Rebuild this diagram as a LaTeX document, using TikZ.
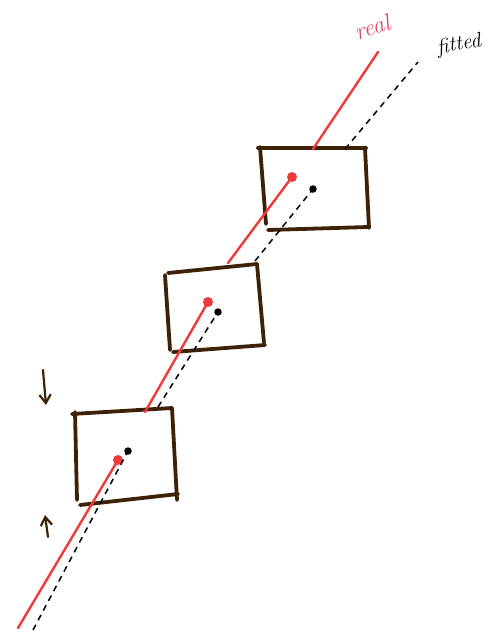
\documentclass[tikz,border=0pt]{standalone}
\usepackage{tikz}
\usetikzlibrary{arrows.meta}
\definecolor{sketchred}{HTML}{EE3A3A}
\definecolor{labelred}{HTML}{DE4A66}
\definecolor{boxbrown}{HTML}{3E2208}
\tikzset{
  frame/.style={draw=boxbrown, line width=3.8pt, line cap=round},
  realline/.style={draw=sketchred, line width=2.4pt, line cap=round},
  fitline/.style={draw=black, line width=1.5pt, dash pattern=on 6pt off 5pt},
  realdot/.style={circle, fill=sketchred, minimum size=10pt, inner sep=0pt},
  fitdot/.style={circle, fill=black, minimum size=7.5pt, inner sep=0pt},
  squeeze/.style={-{Straight Barb[length=3mm,width=4mm]}, draw=boxbrown, line width=2.2pt, line cap=round},
  lbl/.style={font=\itshape, inner sep=1pt}
}
\begin{document}
\begin{tikzpicture}[x=1pt,y=-1pt]
\useasboundingbox (0,0) rectangle (487,633);
% bottom box
\draw[frame] (75,412) -- (77,500);
\draw[frame] (72,414) -- (172,408);
\draw[frame] (172,408) -- (177,500);
\draw[frame] (80,505) -- (178,494);
% middle box
\draw[frame] (165,275) -- (170,350);
\draw[frame] (168,273) -- (257,264);
\draw[frame] (257,264) -- (264,343);
\draw[frame] (173,352) -- (265,345);
% top box
\draw[frame] (260,147) -- (266,224);
\draw[frame] (258,148) -- (366,148);
\draw[frame] (365,148) -- (369,228);
\draw[frame] (268,230) -- (368,227);
% dots
\node[realdot] (r1) at (118,460) {};
\node[realdot] (r2) at (208,302) {};
\node[realdot] (r3) at (292,177) {};
\node[fitdot] (f1) at (128,451) {};
\node[fitdot] (f2) at (218,312) {};
\node[fitdot] (f3) at (313,189) {};
% segment ends
\coordinate (ra) at (18,628);
\coordinate (rb) at (145,412);
\coordinate (rc) at (228,263);
\coordinate (rd) at (313,149);
\coordinate (re) at (378,52);
\coordinate (fa) at (33,630);
\coordinate (fb) at (158,407);
\coordinate (fc) at (255,261);
\coordinate (fd) at (345,149);
\coordinate (fe) at (418,62);
% real path
\draw[realline] (ra) -- (r1.center);
\draw[realline] (rb) -- (r2.center);
\draw[realline] (rc) -- (r3.center);
\draw[realline] (rd) -- (re);
% fitted path
\draw[fitline] (fa) -- (f1.center);
\draw[fitline] (fb) -- (f2.center);
\draw[fitline] (fc) -- (f3.center);
\draw[fitline] (fd) -- (fe);
% arrows
\coordinate (d0) at (43,370);
\coordinate (d1) at (46,405);
\coordinate (u0) at (48,537);
\coordinate (u1) at (45,515);
\draw[squeeze] (d0) -- (d1);
\draw[squeeze] (u0) -- (u1);
% labels
\node[lbl, text=labelred, rotate=18, font=\itshape\fontsize{24}{26}\selectfont] (reallbl) at (372,27) {real};
\node[lbl, rotate=10, font=\itshape\fontsize{21}{23}\selectfont] (fitlbl) at (459,45) {fitted};
\end{tikzpicture}
\end{document}
